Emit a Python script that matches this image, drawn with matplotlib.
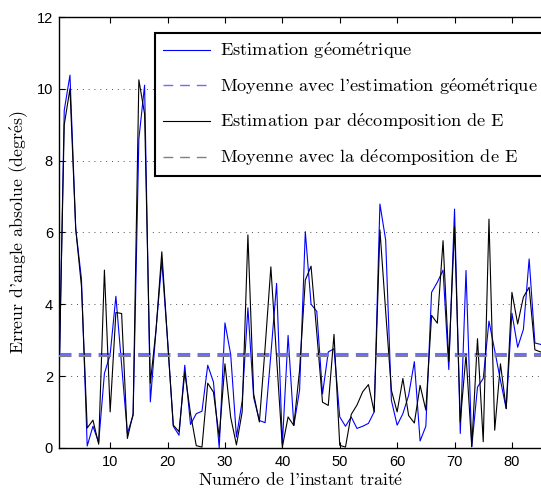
import numpy as np
import matplotlib
matplotlib.use("Agg")
import matplotlib.pyplot as plt
from matplotlib.lines import Line2D

# Angle error per processed instant (degrees)
instants = list(range(1, 86))
err_geometric = [
    1.0, 9.4, 10.38, 6.1, 4.7, 0.05, 0.6, 0.15, 2.07, 2.6,
    4.22, 2.3, 0.4, 0.9, 8.6, 10.1, 1.28, 3.3, 5.2, 3.0,
    0.6, 0.35, 2.3, 0.65, 0.95, 1.02, 2.3, 1.83, 0.0, 3.48,
    2.6, 0.3, 1.3, 3.9, 1.4, 0.76, 0.7, 2.6, 4.58, 0.1,
    3.13, 0.62, 1.6, 6.02, 4.0, 3.8, 1.5, 2.67, 2.76, 0.86,
    0.6, 0.86, 0.54, 0.6, 0.68, 1.0, 6.79, 5.79, 1.32, 0.63,
    0.95, 1.46, 2.4, 0.19, 0.6, 4.33, 4.61, 4.95, 2.18, 6.65,
    0.4, 4.94, 0.03, 1.69, 1.93, 3.53, 2.71, 1.88, 1.09, 3.75,
    2.8, 3.3, 5.26, 2.92, 2.88,
]
err_decomposition = [
    1.2, 9.0, 10.0, 6.1, 4.5, 0.55, 0.77, 0.1, 4.95, 1.0,
    3.77, 3.74, 0.26, 0.95, 10.25, 9.3, 1.8, 3.3, 5.46, 3.0,
    0.63, 0.45, 2.1, 0.95, 0.06, 0.02, 1.8, 1.55, 0.3, 2.34,
    0.85, 0.08, 1.0, 5.93, 1.5, 0.72, 2.8, 5.04, 2.5, 0.02,
    0.86, 0.62, 2.16, 4.67, 5.06, 3.2, 1.27, 1.18, 3.16, 0.07,
    0.02, 0.93, 1.19, 1.56, 1.76, 1.0, 6.07, 3.8, 1.6, 1.0,
    1.93, 0.9, 0.69, 1.74, 1.05, 3.69, 3.47, 5.77, 2.4, 6.16,
    0.72, 2.6, 0.03, 3.04, 0.17, 6.37, 0.49, 2.34, 1.09, 4.33,
    3.45, 4.2, 4.47, 2.73, 2.67,
]
mean_geometric = 2.62
mean_decomposition = 2.57

x_ticks = [10, 20, 30, 40, 50, 60, 70, 80]
y_ticks = [0, 2, 4, 6, 8, 10, 12]

labels = [
    "Estimation géométrique",
    "Moyenne avec l'estimation géométrique",
    "Estimation par décomposition de E",
    "Moyenne avec la décomposition de E",
]
xlabel = "Numéro de l'instant traité"
ylabel = "Erreur d'angle absolue (degrés)"

plt.rcParams["mathtext.fontset"] = "cm"
plt.rcParams["axes.unicode_minus"] = False


def tex(s):
    # cmr10 has no accented glyphs: build them with mathtext accents
    return s.replace("é", r"$\mathrm{\acute{e}}$")


serif = {"family": "cmr10"}

fig = plt.figure(figsize=(5.41, 4.92), dpi=100)
W, H = 541.0, 492.0
x0, x1 = 58.5, 543.5
y_top, y_bot = 17.0, 447.8
ax = fig.add_axes([x0 / W, 1 - y_bot / H, (x1 - x0) / W, (y_bot - y_top) / H])

ax.plot(instants, err_geometric, color="#0000ff", lw=0.8, zorder=3)
ax.axhline(mean_geometric, color="#6b6bff", lw=1.5, dashes=(6, 3.5), zorder=4)
ax.plot(instants, err_decomposition, color="black", lw=0.8, zorder=5)
ax.axhline(mean_decomposition, color="#808080", lw=1.5, dashes=(6, 3.5), zorder=6)

ax.set_xlim(1, 85.5)
ax.set_ylim(0, 12)
ax.set_xticks(x_ticks)
ax.set_yticks(y_ticks)
for g in [2, 4, 6, 8, 10]:
    ax.axhline(g, color="#505050", lw=0.7, ls=(0, (1, 5)), zorder=1)

ax.tick_params(direction="in", length=4, width=0.8, top=True, right=False,
               labelsize=10.5)
ax.tick_params(axis="x", pad=5)
ax.tick_params(axis="y", pad=4)
for lab in ax.get_xticklabels() + ax.get_yticklabels():
    lab.set_fontfamily("Liberation Sans")
for sp in ax.spines.values():
    sp.set_linewidth(1.0)

ax.set_xlabel(tex(xlabel), fontdict=serif, fontsize=12.8, labelpad=2)
ax.set_ylabel(tex(ylabel), fontdict=serif, fontsize=12.8, labelpad=5)

handles = [
    Line2D([], [], color="#0000ff", lw=0.8),
    Line2D([], [], color="#6b6bff", lw=1.0, dashes=(7, 5)),
    Line2D([], [], color="black", lw=0.8),
    Line2D([], [], color="#808080", lw=1.0, dashes=(7, 5)),
]
leg = ax.legend(handles, [tex(s) for s in labels], loc="upper left",
                bbox_to_anchor=((155 - x0) / (x1 - x0), (y_bot - 33) / (y_bot - y_top)),
                prop={"family": "cmr10", "size": 13.2}, frameon=True, fancybox=False,
                edgecolor="black", framealpha=1, borderaxespad=0,
                handlelength=2.6, handletextpad=0.5, labelspacing=0.81,
                borderpad=0.42)
leg.get_frame().set_linewidth(1.5)
leg.set_zorder(10)

fig.savefig("out.png", dpi=100)
